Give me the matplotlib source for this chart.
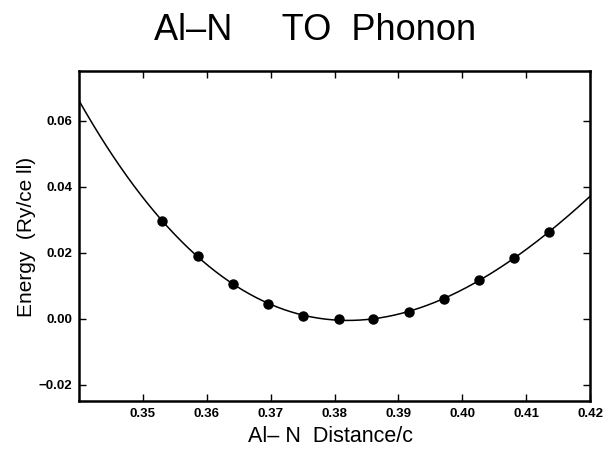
import matplotlib
matplotlib.use('Agg')
import matplotlib.pyplot as plt
import numpy as np

plt.rcParams['font.family'] = ['Liberation Sans', 'DejaVu Sans']

# Al-N distance (units of c) and energy (Ry/cell)
distance = [0.3530, 0.3586, 0.3641, 0.3696, 0.3751, 0.3807,
            0.3861, 0.3917, 0.3972, 0.4027, 0.4081, 0.4136]
energy = [0.0296, 0.0188, 0.0105, 0.0045, 0.0009, -0.0003,
          0.0000, 0.0020, 0.0060, 0.0117, 0.0184, 0.0262]

x_ticks = [0.35, 0.36, 0.37, 0.38, 0.39, 0.40, 0.41, 0.42]
y_ticks = [-0.02, 0.00, 0.02, 0.04, 0.06]

# fitted curve through the points
coef = np.polyfit(distance, energy, 3)
xs = np.linspace(0.34, 0.42, 300)
ys = np.polyval(coef, xs)

fig = plt.figure(figsize=(6.07, 4.49), dpi=100)
ax = fig.add_axes([79 / 607, 1 - 401 / 449, 511 / 607, 330 / 449])

ax.plot(xs, ys, color='black', lw=1.1)
ax.plot(distance, energy, 'o', color='black', ms=6.5)

ax.set_xlim(0.34, 0.42)
ax.set_ylim(-0.025, 0.075)
ax.set_xticks(x_ticks)
ax.set_xticklabels(['%.2f' % v for v in x_ticks])
ax.set_yticks(y_ticks)
ax.set_yticklabels(['\u22120.02', '0.00', '0.02', '0.04', '0.06'])
ax.tick_params(direction='in', length=5, width=1, top=True, right=True,
               labelsize=9.5)
ax.tick_params(axis='x', pad=5)
ax.tick_params(axis='y', pad=5)
for lab in ax.get_xticklabels() + ax.get_yticklabels():
    lab.set_fontweight('bold')
for s in ax.spines.values():
    s.set_linewidth(1.8)

fig.text(330 / 607, 1 - 437 / 449, 'Al\u2013 N  Distance/c', fontsize=15.5,
         ha='center', va='center')
fig.text(26 / 607, 1 - 237 / 449, 'Energy  (Ry/ce ll)', fontsize=15,
         ha='center', va='center', rotation=90)
fig.text(315 / 607, 1 - 30 / 449, 'Al\u2013N     TO  Phonon', fontsize=26,
         ha='center', va='center')

fig.savefig('out.png', dpi=100)
